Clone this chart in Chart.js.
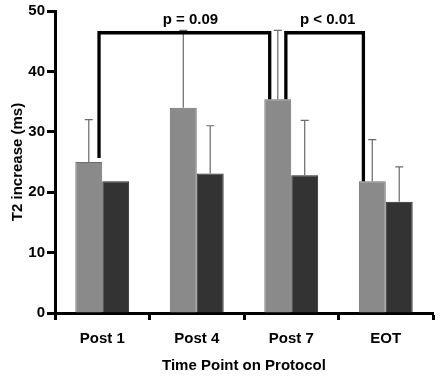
<!DOCTYPE html>
<html>
<head>
<meta charset="utf-8">
<script src="https://cdn.jsdelivr.net/npm/chart.js@4"></script>
<style>
  html, body { margin: 0; padding: 0; background: #fff; }
  #wrap { width: 440px; height: 377px; }
</style>
</head>
<body>
<div id="wrap"><canvas id="chart" width="440" height="377"></canvas></div>
<script>
// T2 increase by time point, two groups (grey / dark), upper error bars only
const categories = ['Post 1', 'Post 4', 'Post 7', 'EOT'];
const greyValues = [25.0, 34.0, 35.4, 21.8];
const darkValues = [21.8, 23.1, 22.8, 18.4];
const greyErrors = [7.0, 12.8, 11.4, 6.9];
const darkErrors = [0, 7.9, 9.1, 5.8];
const yTicks = [0, 10, 20, 30, 40, 50];

// significance brackets: from category / to category, height, label
const brackets = [
  { from: 0, to: 2, y: 46.4, text: 'p = 0.09' },
  { from: 2, to: 3, y: 46.4, text: 'p < 0.01' }
];

const FONT = 'Liberation Sans, Arial, sans-serif';

const extrasPlugin = {
  id: 'extras',
  afterDatasetsDraw(chart) {
    const { ctx } = chart;
    const ys = chart.scales.y;
    ctx.save();

    // error bars (upper only, with a small cap)
    const sets = [[greyValues, greyErrors], [darkValues, darkErrors]];
    sets.forEach(([vals, errs], di) => {
      const meta = chart.getDatasetMeta(di);
      meta.data.forEach((bar, i) => {
        if (!errs[i]) return;
        const yTop = ys.getPixelForValue(vals[i] + errs[i]);
        const yBar = ys.getPixelForValue(vals[i]);
        ctx.strokeStyle = '#6a6a6a';
        ctx.lineWidth = 1.2;
        ctx.beginPath();
        ctx.moveTo(bar.x, yBar);
        ctx.lineTo(bar.x, yTop);
        ctx.moveTo(bar.x - 4, yTop);
        ctx.lineTo(bar.x + 4, yTop);
        ctx.stroke();
      });
    });

    // brackets, anchored on the grey bars
    const greyMeta = chart.getDatasetMeta(0);
    const pos = (i, frac) => {
      const b = greyMeta.data[i];
      return b.x + frac * b.width;
    };
    ctx.strokeStyle = '#000';
    ctx.lineWidth = 3.3;
    ctx.lineJoin = 'miter';
    ctx.font = 'bold 15px ' + FONT;
    ctx.fillStyle = '#000';
    ctx.textAlign = 'center';
    ctx.textBaseline = 'alphabetic';
    brackets.forEach((br, k) => {
      const x1 = k === 0 ? pos(br.from, 0.38) : pos(br.from, 0.3);
      const x2 = k === 0 ? pos(br.to, -0.3) : pos(br.to, -0.33);
      const yb = ys.getPixelForValue(br.y);
      const y1 = ys.getPixelForValue(greyValues[br.from]) - (k === 0 ? 4 : 0);
      const y2 = ys.getPixelForValue(greyValues[br.to]);
      ctx.beginPath();
      ctx.moveTo(x1, y1);
      ctx.lineTo(x1, yb);
      ctx.lineTo(x2, yb);
      ctx.lineTo(x2, y2);
      ctx.stroke();
      ctx.fillText(br.text, (x1 + x2) / 2 + (k === 0 ? 6 : 3), yb - 9);
    });
    ctx.restore();
  }
};

new Chart(document.getElementById('chart'), {
  type: 'bar',
  data: {
    labels: categories,
    datasets: [
      {
        label: 'Group A',
        data: greyValues,
        backgroundColor: '#8a8a8a',
        borderColor: '#6c6c6c',
        borderWidth: 1,
        categoryPercentage: 0.57,
        barPercentage: 1.0
      },
      {
        label: 'Group B',
        data: darkValues,
        backgroundColor: '#333333',
        borderColor: '#262626',
        borderWidth: 1,
        categoryPercentage: 0.57,
        barPercentage: 1.0
      }
    ]
  },
  options: {
    responsive: false,
    animation: false,
    layout: { padding: { top: 10, right: 7, left: 0, bottom: 0 } },
    plugins: {
      legend: { display: false },
      tooltip: { enabled: false }
    },
    scales: {
      x: {
        grid: {
          display: true,
          drawOnChartArea: false,
          drawTicks: true,
          tickLength: 7,
          tickWidth: 3,
          tickColor: '#000',
          offset: true
        },
        border: { display: true, color: '#000', width: 3 },
        ticks: {
          color: '#000',
          font: { family: FONT, size: 15, weight: 'bold' },
          padding: 10
        },
        title: {
          display: true,
          text: 'Time Point on Protocol',
          color: '#000',
          font: { family: FONT, size: 15, weight: 'bold' },
          padding: { top: 0, bottom: 2 }
        },
        afterFit(scale) { scale.height = 64; }
      },
      y: {
        min: 0,
        max: 50,
        afterBuildTicks(scale) { scale.ticks = yTicks.map(v => ({ value: v })); },
        grid: {
          display: true,
          drawOnChartArea: false,
          drawTicks: true,
          tickLength: 8,
          tickWidth: 3,
          tickColor: '#000'
        },
        border: { display: true, color: '#000', width: 3 },
        ticks: {
          color: '#000',
          font: { family: FONT, size: 15, weight: 'bold' },
          padding: 2
        },
        title: {
          display: true,
          text: 'T2 increase (ms)',
          color: '#000',
          font: { family: FONT, size: 15, weight: 'bold' },
          padding: { top: 9, bottom: 0 }
        },
        afterFit(scale) { scale.width = 55; }
      }
    }
  },
  plugins: [extrasPlugin]
});
</script>
</body>
</html>
